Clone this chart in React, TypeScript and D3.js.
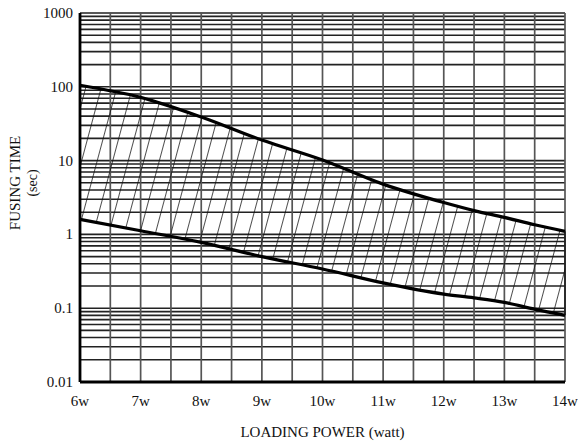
import React from 'react';
import * as d3 from 'd3';

// loading power (w) and fusing time bounds (sec)
const power = [6, 7, 8, 9, 10, 11, 12, 12.5, 13, 13.5, 14];
const upperTime = [105, 72, 39, 19, 10.2, 4.8, 2.7, 2.1, 1.7, 1.35, 1.1];
const lowerTime = [1.6, 1.12, 0.78, 0.5, 0.34, 0.22, 0.155, 0.138, 0.12, 0.097, 0.08];

const xTicks = [6, 7, 8, 9, 10, 11, 12, 13, 14];
const yTicks = [0.01, 0.1, 1, 10, 100, 1000];
const yTickLabels = ['0.01', '0.1', '1', '10', '100', '1000'];

function App() {
    // set the dimensions and margins of the graph
    const w = 578,
        h = 443,
        margin = { top: 13, right: 13, bottom: 61, left: 80 };

    const x = d3.scaleLinear().domain([6, 14]).range([margin.left, w - margin.right]);
    const y = d3.scaleLog().domain([0.01, 1000]).range([h - margin.bottom, margin.top]);

    // minor grid: every half watt, and 1..9 in each decade
    const xGrid = d3.range(6, 14.01, 0.5);
    const yGrid: number[] = [];
    for (let e = -2; e < 3; e++) {
        for (let k = 1; k < 10; k++) yGrid.push(k * Math.pow(10, e));
    }
    yGrid.push(1000);

    const pts = power.map((p, i) => ({ p, hi: upperTime[i], lo: lowerTime[i] }));
    const curve = d3.curveMonotoneX;
    const upperLine = d3.line<any>().x(d => x(d.p)).y(d => y(d.hi)).curve(curve);
    const lowerLine = d3.line<any>().x(d => x(d.p)).y(d => y(d.lo)).curve(curve);
    const band = d3.area<any>().x(d => x(d.p)).y0(d => y(d.lo)).y1(d => y(d.hi)).curve(curve);

    const font = '"Liberation Serif", "DejaVu Serif", serif';

    return (
        <svg width={w} height={h} style={{ position: 'absolute', left: 0, top: 0, background: '#fff' }}>
            <defs>
                <pattern id="hatch" patternUnits="userSpaceOnUse" width="15" height="15"
                    patternTransform="rotate(15)">
                    <line x1="0" y1="0" x2="0" y2="15" stroke="#111" strokeWidth="1.5" />
                </pattern>
            </defs>
            <g>
                {yGrid.map((v, i) => (
                    <line key={'h' + i} x1={x(6)} x2={x(14)} y1={y(v)} y2={y(v)}
                        stroke="#222" strokeWidth={1.6} />
                ))}
                {xGrid.map((v, i) => (
                    <line key={'v' + i} x1={x(v)} x2={x(v)} y1={y(1000)} y2={y(0.01)}
                        stroke="#555" strokeWidth={1.7} />
                ))}
            </g>
            <path d={band(pts) || ''} fill="url(#hatch)" />
            <path d={upperLine(pts) || ''} fill="none" stroke="#000" strokeWidth={3.2} />
            <path d={lowerLine(pts) || ''} fill="none" stroke="#000" strokeWidth={3.2} />
            {/* axes */}
            <line x1={x(6)} x2={x(6)} y1={y(1000)} y2={y(0.01)} stroke="#000" strokeWidth={2.8} />
            <line x1={x(6)} x2={x(14)} y1={y(0.01)} y2={y(0.01)} stroke="#000" strokeWidth={3} />
            <line x1={x(14)} x2={x(14)} y1={y(upperTime[upperTime.length - 1])} y2={y(lowerTime[lowerTime.length - 1])} stroke="#111" strokeWidth={1.4} />
            {yTicks.map((v, i) => (
                <text key={'yt' + i} x={x(6) - 7} y={y(v) + 5} textAnchor="end"
                    fontFamily={font} fontSize={15} fill="#111">{yTickLabels[i]}</text>
            ))}
            {xTicks.map((v, i) => (
                <text key={'xt' + i} x={x(v)} y={y(0.01) + 24} textAnchor="middle"
                    fontFamily={font} fontSize={15} fill="#111">{v + 'w'}</text>
            ))}
            <text x={(x(6) + x(14)) / 2} y={437} textAnchor="middle" fontFamily={font}
                fontSize={15} fill="#111">LOADING POWER (watt)</text>
            <text transform="translate(20,183) rotate(-90)" textAnchor="middle" fontFamily={font}
                fontSize={15} fill="#111">FUSING TIME</text>
            <text transform="translate(37,183) rotate(-90)" textAnchor="middle" fontFamily={font}
                fontSize={14} fill="#111">(sec)</text>
        </svg>
    );
}

export default App;
